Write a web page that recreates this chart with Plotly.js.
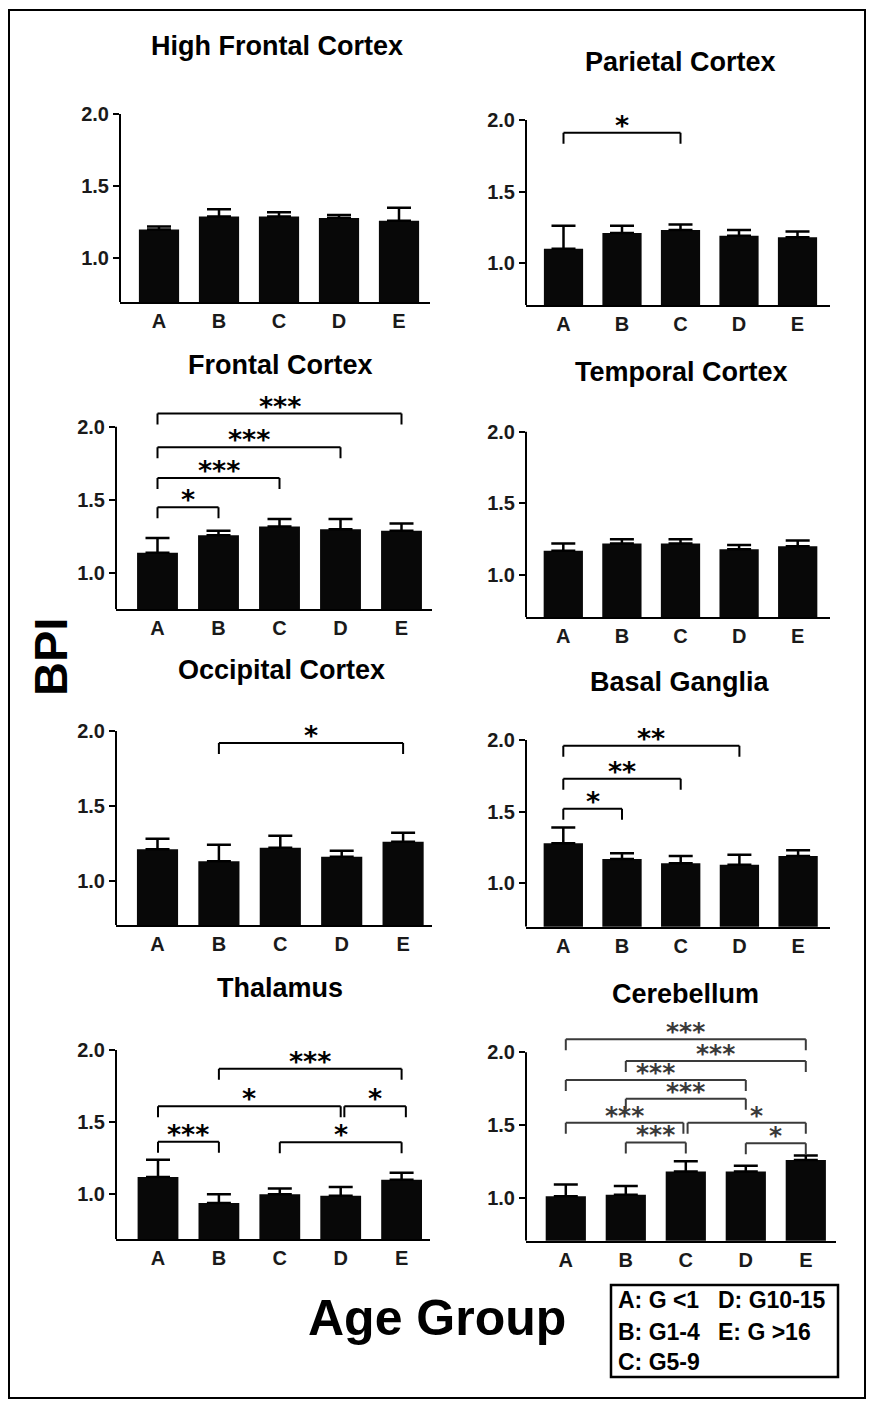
<!DOCTYPE html>
<html>
<head>
<meta charset="utf-8">
<script src="https://cdn.plot.ly/plotly-3.0.1.min.js"></script>
<style>
html,body{margin:0;padding:0;background:#fff;}
#chart{width:875px;height:1401px;}
</style>
</head>
<body>
<div id="chart"></div>
<script>
// ---------------- DATA ----------------
const categories = ['A', 'B', 'C', 'D', 'E'];
const regionNames = ['High Frontal Cortex', 'Parietal Cortex', 'Frontal Cortex', 'Temporal Cortex',
                     'Occipital Cortex', 'Basal Ganglia', 'Thalamus', 'Cerebellum'];
const yTickVals = [1.0, 1.5, 2.0];
const yTickText = ['1.0', '1.5', '2.0'];

const highFrontalMean = [1.20, 1.29, 1.29, 1.28, 1.26];
const highFrontalSem  = [0.02, 0.05, 0.03, 0.02, 0.09];
const parietalMean    = [1.10, 1.21, 1.23, 1.19, 1.18];
const parietalSem     = [0.16, 0.05, 0.04, 0.04, 0.04];
const frontalMean     = [1.14, 1.26, 1.32, 1.30, 1.29];
const frontalSem      = [0.10, 0.03, 0.05, 0.07, 0.05];
const temporalMean    = [1.17, 1.22, 1.22, 1.18, 1.20];
const temporalSem     = [0.05, 0.03, 0.03, 0.03, 0.04];
const occipitalMean   = [1.21, 1.13, 1.22, 1.16, 1.26];
const occipitalSem    = [0.07, 0.11, 0.08, 0.04, 0.06];
const basalMean       = [1.28, 1.17, 1.14, 1.13, 1.19];
const basalSem        = [0.11, 0.04, 0.05, 0.07, 0.04];
const thalamusMean    = [1.12, 0.94, 1.00, 0.99, 1.10];
const thalamusSem     = [0.12, 0.06, 0.04, 0.06, 0.05];
const cerebellumMean  = [1.01, 1.02, 1.18, 1.18, 1.26];
const cerebellumSem   = [0.08, 0.06, 0.07, 0.04, 0.03];

// significance comparisons: [from, to, label]
const highFrontalSig = [];
const parietalSig    = [['A', 'C', '*']];
const frontalSig     = [['A', 'B', '*'], ['A', 'C', '***'], ['A', 'D', '***'], ['A', 'E', '***']];
const temporalSig    = [];
const occipitalSig   = [['B', 'E', '*']];
const basalSig       = [['A', 'B', '*'], ['A', 'C', '**'], ['A', 'D', '**']];
const thalamusSig    = [['A', 'B', '***'], ['C', 'E', '*'], ['A', 'D', '*'], ['D', 'E', '*'], ['B', 'E', '***']];
const cerebellumSig  = [['A', 'E', '***'], ['B', 'E', '***'], ['A', 'D', '***'], ['B', 'D', '***'],
                        ['A', 'C', '***'], ['C', 'E', '*'], ['B', 'C', '***'], ['D', 'E', '*']];

const legendLines = [
  ['A: G &lt;1', 'D: G10-15'],
  ['B: G1-4', 'E: G &gt;16'],
  ['C: G5-9', '']
];

// ---------------- LAYOUT CONFIG (pixels) ----------------
const W = 875, H = 1401, YTOP = 2.25;
// xl: y-axis x, xr: x-axis right end, c0: first category centre, dx: category spacing,
// p2/p1: pixel rows of 2.0 and 1.0, pb: x-axis row, tx/ty: title centre
const boxes = [
  {xl:120, xr:430, c0:159,   dx:60,   p2:114,   p1:258.3,  pb:302,    tx:277, ty:46},
  {xl:526, xr:830, c0:563.5, dx:58.5, p2:120,   p1:263,    pb:305,    tx:680, ty:62},
  {xl:116, xr:432, c0:157.5, dx:61,   p2:426.7, p1:573.3,  pb:609.3,  tx:280, ty:365},
  {xl:526, xr:830, c0:563.3, dx:58.6, p2:431.7, p1:575,    pb:617.3,  tx:681, ty:372},
  {xl:116, xr:432, c0:157.5, dx:61.4, p2:731,   p1:880.7,  pb:925,    tx:281, ty:670},
  {xl:526, xr:830, c0:563.3, dx:58.7, p2:740,   p1:883.3,  pb:926.7,  tx:680, ty:682},
  {xl:116, xr:430, c0:158,   dx:60.9, p2:1050,  p1:1194.3, pb:1239.3, tx:280, ty:988},
  {xl:526, xr:836, c0:565.8, dx:60,   p2:1052.3,p1:1197.7, pb:1240.7, tx:685, ty:994}
];
// bracket placement per comparison: y level, end offsets, star x override
const bracketPlace = [
  [],
  [{y:1.91}],
  [{y:1.45}, {y:1.65}, {y:1.86}, {y:2.09}],
  [],
  [{y:1.92}],
  [{y:1.52}, {y:1.73}, {y:1.96}],
  [{y:1.365}, {y:1.36}, {y:1.61}, {y:1.61, d0:0.06, d1:0.07}, {y:1.87}],
  [{y:2.09}, {y:1.94}, {y:1.81}, {y:1.68}, {y:1.515, d1:-0.04}, {y:1.515, d0:0.03, sx:3.18},
   {y:1.38}, {y:1.375}]
];

const means = [highFrontalMean, parietalMean, frontalMean, temporalMean, occipitalMean, basalMean, thalamusMean, cerebellumMean];
const sems  = [highFrontalSem, parietalSem, frontalSem, temporalSem, occipitalSem, basalSem, thalamusSem, cerebellumSem];
const sigs  = [highFrontalSig, parietalSig, frontalSig, temporalSig, occipitalSig, basalSig, thalamusSig, cerebellumSig];

const FONT = 'Liberation Sans, Arial, Helvetica, sans-serif';
const traces = [];
const shapes = [];
const annotations = [];
const layout = {
  width: W, height: H,
  margin: {l:0, r:0, t:0, b:0},
  paper_bgcolor: '#fff', plot_bgcolor: 'rgba(0,0,0,0)',
  showlegend: false,
  bargap: 0.33,
  font: {family: FONT, color: '#111'}
};

boxes.forEach((b, i) => {
  const k = i === 0 ? '' : String(i + 1);
  const xa = 'x' + k, ya = 'y' + k;
  const s = b.p1 - b.p2;
  const ybot = 1 - (b.pb - b.p1) / s;
  const ptop = b.p2 - (YTOP - 2) * s;
  const dense = i === 7;
  const inkColor = dense ? '#3a3a3a' : '#000';
  const starSize = dense ? 25 : 27;
  const starShift = dense ? -9 : -10;

  traces.push({
    type: 'bar', x: categories, y: means[i], xaxis: xa, yaxis: ya,
    marker: {color: '#080808', line: {width: 0}},
    error_y: {type: 'data', symmetric: false, array: sems[i], arrayminus: sems[i].map(() => 0),
              visible: true, color: '#000', thickness: 2.5, width: 12},
    hoverinfo: 'skip'
  });

  layout['xaxis' + k] = {
    type: 'category', domain: [b.xl / W, b.xr / W],
    range: [(b.xl - b.c0) / b.dx, (b.xr - b.c0) / b.dx],
    anchor: ya, showline: true, linewidth: 2, linecolor: '#000',
    ticks: '', showgrid: false, zeroline: false, fixedrange: true,
    tickfont: {family: FONT, size: 20, weight: 'bold', color: '#1a1a1a'}
  };
  layout['yaxis' + k] = {
    domain: [1 - b.pb / H, 1 - ptop / H], range: [ybot, YTOP], anchor: xa,
    tickvals: yTickVals, ticktext: yTickText,
    ticks: 'outside', ticklen: 6, tickwidth: 2, tickcolor: '#000',
    showline: false, showgrid: false, zeroline: false, fixedrange: true,
    tickfont: {family: FONT, size: 20, weight: 'bold', color: '#1a1a1a'}
  };

  // y axis line from bottom up to 2.0
  shapes.push({type: 'line', xref: xa + ' domain', yref: ya, x0: 0, x1: 0, y0: ybot, y1: 2.0,
               line: {color: '#000', width: 2}});

  // significance brackets
  const tip = 11 / s;
  sigs[i].forEach((c, j) => {
    const pl = bracketPlace[i][j];
    const a = categories.indexOf(c[0]) + (pl.d0 || 0);
    const e = categories.indexOf(c[1]) + (pl.d1 || 0);
    const ln = {color: inkColor, width: 2};
    shapes.push({type: 'line', xref: xa, yref: ya, x0: a, x1: e, y0: pl.y, y1: pl.y, line: ln});
    shapes.push({type: 'line', xref: xa, yref: ya, x0: a, x1: a, y0: pl.y, y1: pl.y - tip, line: ln});
    shapes.push({type: 'line', xref: xa, yref: ya, x0: e, x1: e, y0: pl.y, y1: pl.y - tip, line: ln});
    annotations.push({xref: xa, yref: ya, x: pl.sx !== undefined ? pl.sx : (a + e) / 2, y: pl.y,
                      text: c[2], showarrow: false, xanchor: 'center', yanchor: 'bottom', yshift: starShift,
                      font: {family: 'DejaVu Sans', size: starSize, weight: 'bold', color: inkColor}});
  });

  // panel title
  annotations.push({xref: 'paper', yref: 'paper', x: b.tx / W, y: 1 - b.ty / H, text: regionNames[i],
                    showarrow: false, xanchor: 'center', yanchor: 'middle',
                    font: {family: FONT, size: 27, weight: 'bold', color: '#000'}});
});

// axis labels
annotations.push({xref: 'paper', yref: 'paper', x: 50 / W, y: 1 - 657 / H, text: 'BPI', textangle: -90,
                  showarrow: false, xanchor: 'center', yanchor: 'middle',
                  font: {family: FONT, size: 47, weight: 'bold', color: '#000'}});
annotations.push({xref: 'paper', yref: 'paper', x: 437 / W, y: 1 - 1318 / H, text: 'Age Group',
                  showarrow: false, xanchor: 'center', yanchor: 'middle',
                  font: {family: FONT, size: 50, weight: 'bold', color: '#000'}});

// legend box
shapes.push({type: 'rect', xref: 'paper', yref: 'paper', x0: 611 / W, x1: 838 / W, y0: 1 - 1377 / H, y1: 1 - 1285 / H,
             line: {color: '#000', width: 2.5}});
const legRows = [1300, 1332, 1362], legCols = [616, 716];
legendLines.forEach((row, r) => row.forEach((t, cI) => {
  if (!t) return;
  annotations.push({xref: 'paper', yref: 'paper', x: legCols[cI] / W, y: 1 - legRows[r] / H, text: t,
                    showarrow: false, xanchor: 'left', yanchor: 'middle',
                    font: {family: FONT, size: 23, weight: 'bold', color: '#000'}});
}));

// outer frame
shapes.push({type: 'rect', xref: 'paper', yref: 'paper', x0: 9 / W, x1: 865 / W, y0: 1 - 1398 / H, y1: 1 - 10 / H,
             line: {color: '#000', width: 2}});

layout.shapes = shapes;
layout.annotations = annotations;

Plotly.newPlot('chart', traces, layout, {displayModeBar: false, staticPlot: true});
</script>
</body>
</html>
